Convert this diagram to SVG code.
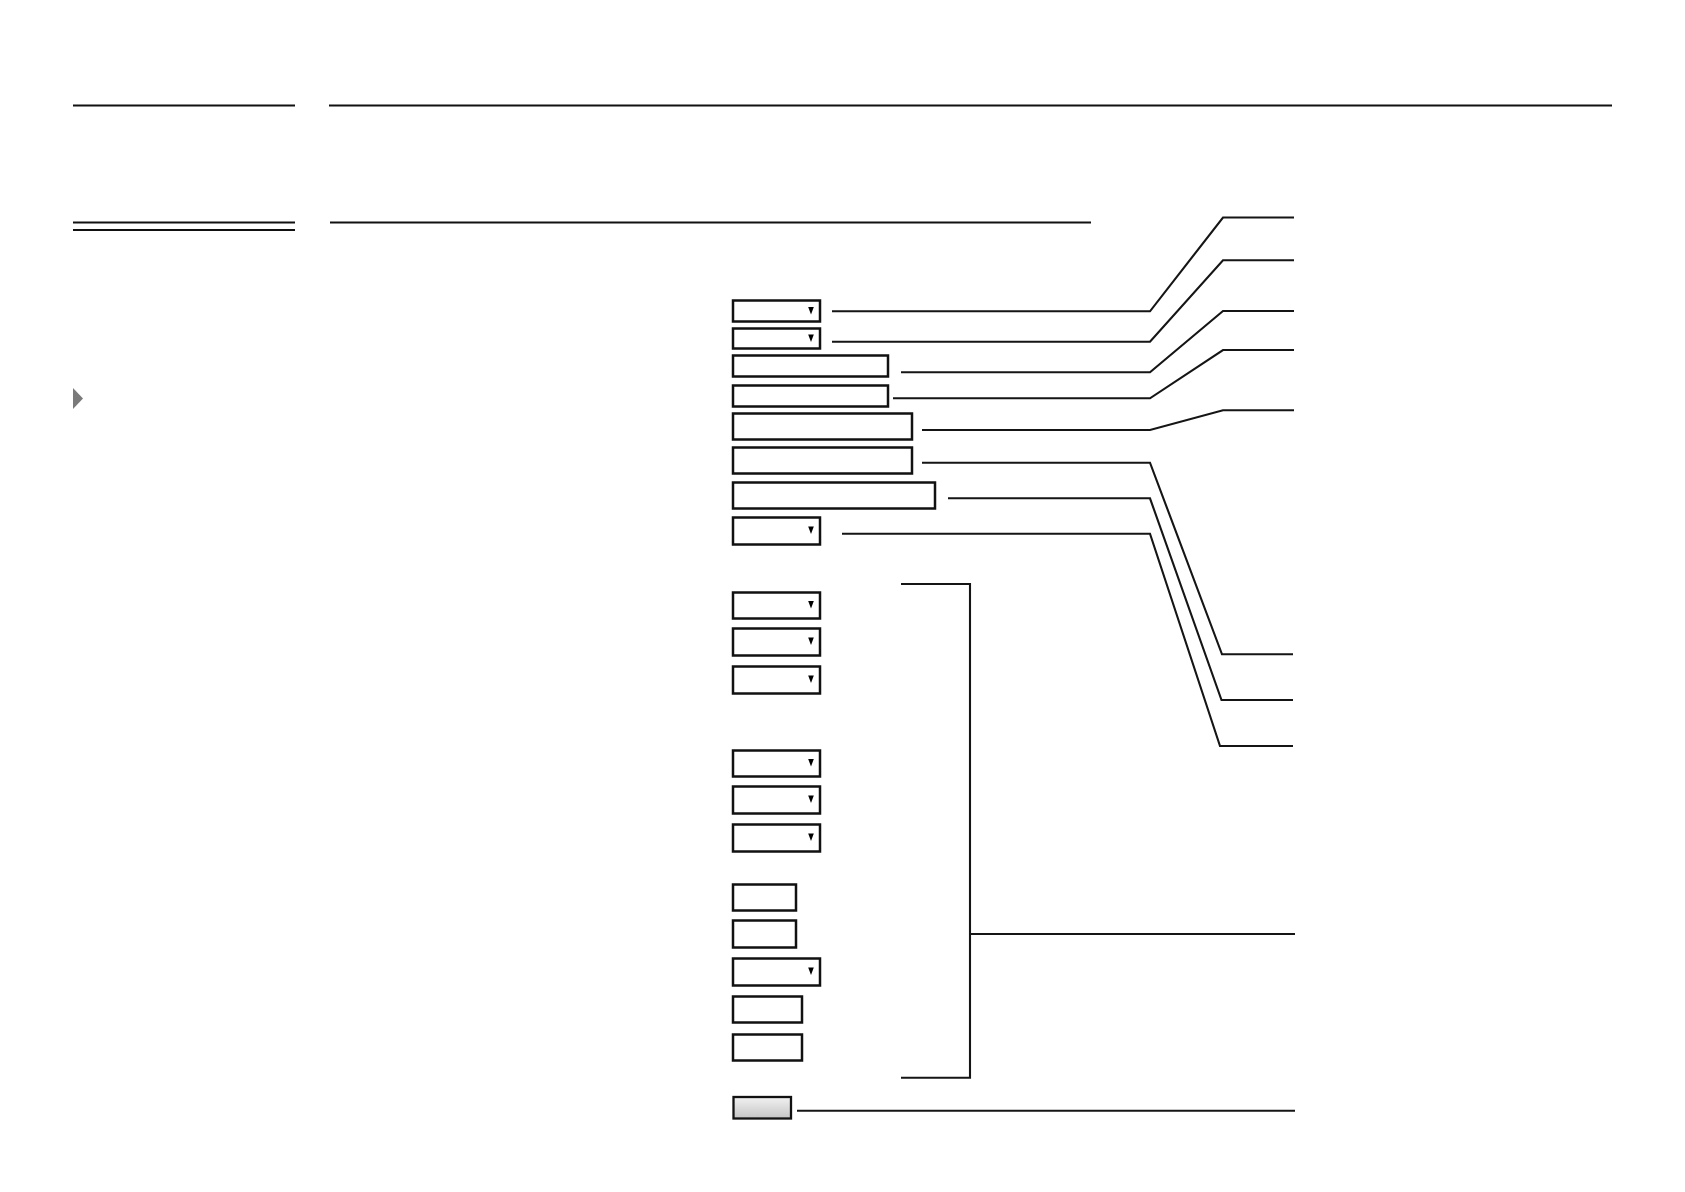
<svg xmlns="http://www.w3.org/2000/svg" width="1685" height="1192" viewBox="0 0 1685 1192">
<style>
.rule{stroke:#111;stroke-width:2.2;fill:none}
.box{fill:#fff;stroke:#111;stroke-width:2.5}
.arr{fill:#000}
.conn{stroke:#151515;stroke-width:2.1;fill:none;stroke-linejoin:miter}
</style>
<defs>
<linearGradient id="btn" x1="0" y1="0" x2="0" y2="1">
<stop offset="0" stop-color="#f2f2f2"/>
<stop offset="1" stop-color="#c4c4c4"/>
</linearGradient>
<path id="dd" d="M-2.8,-3.5 L2.8,-3.5 L0,4 Z"/>
</defs>
<rect width="1685" height="1192" fill="#fff"/>
<g id="rules">
<line class="rule" x1="73" y1="105.5" x2="295" y2="105.5"/>
<line class="rule" x1="329" y1="105.5" x2="1612" y2="105.5"/>
<line class="rule" x1="73" y1="222.5" x2="295" y2="222.5"/>
<line class="rule" x1="73" y1="230" x2="295" y2="230"/>
<line class="rule" x1="330" y1="222.5" x2="1091" y2="222.5"/>
</g>
<g id="triangle"><path d="M73,388 L83,398.5 L73,409 Z" fill="#7a7a7a"/></g>
<g id="nodes">
<g id="n1"><rect class="box" x="733" y="300.5" width="87" height="21"/><use href="#dd" x="811" y="310.5" class="arr"/></g>
<g id="n2"><rect class="box" x="733" y="328.5" width="87" height="20"/><use href="#dd" x="811" y="338" class="arr"/></g>
<g id="n3"><rect class="box" x="733" y="355.5" width="155" height="21"/></g>
<g id="n4"><rect class="box" x="733" y="385.5" width="155" height="21"/></g>
<g id="n5"><rect class="box" x="733" y="413.5" width="179" height="26"/></g>
<g id="n6"><rect class="box" x="733" y="447.5" width="179" height="26"/></g>
<g id="n7"><rect class="box" x="733" y="482.5" width="202" height="26"/></g>
<g id="n8"><rect class="box" x="733" y="517.5" width="87" height="27"/><use href="#dd" x="811" y="530" class="arr"/></g>
<g id="n9"><rect class="box" x="733" y="592.5" width="87" height="26"/><use href="#dd" x="811" y="604.5" class="arr"/></g>
<g id="n10"><rect class="box" x="733" y="628.5" width="87" height="27"/><use href="#dd" x="811" y="641" class="arr"/></g>
<g id="n11"><rect class="box" x="733" y="666.5" width="87" height="27"/><use href="#dd" x="811" y="679" class="arr"/></g>
<g id="n12"><rect class="box" x="733" y="750.5" width="87" height="26"/><use href="#dd" x="811" y="762.5" class="arr"/></g>
<g id="n13"><rect class="box" x="733" y="786.5" width="87" height="27"/><use href="#dd" x="811" y="799" class="arr"/></g>
<g id="n14"><rect class="box" x="733" y="824.5" width="87" height="27"/><use href="#dd" x="811" y="837" class="arr"/></g>
<g id="n15"><rect class="box" x="733" y="884.5" width="63" height="26"/></g>
<g id="n16"><rect class="box" x="733" y="920.5" width="63" height="27"/></g>
<g id="n17"><rect class="box" x="733" y="958.5" width="87" height="27"/><use href="#dd" x="811" y="971" class="arr"/></g>
<g id="n18"><rect class="box" x="733" y="996.5" width="69" height="26"/></g>
<g id="n19"><rect class="box" x="733" y="1034.5" width="69" height="26"/></g>
<g id="n20"><rect x="733.5" y="1097" width="57.5" height="21.5" fill="url(#btn)" stroke="#111" stroke-width="2.3"/></g>
</g>
<g id="connectors">
<polyline class="conn" points="832,311.3 1150,311.3 1223,217.5 1294,217.5"/>
<polyline class="conn" points="832,341.7 1150,341.7 1223,260.3 1294,260.3"/>
<polyline class="conn" points="901,372.3 1150,372.3 1223,311 1294,311"/>
<polyline class="conn" points="893,398.3 1150,398.3 1223,350 1294,350"/>
<polyline class="conn" points="922,430 1150,430 1223,410.3 1294,410.3"/>
<polyline class="conn" points="922,462.7 1150,462.7 1222,654.3 1293,654.3"/>
<polyline class="conn" points="948,498.3 1150,498.3 1221.5,700 1293,700"/>
<polyline class="conn" points="842,533.7 1150,533.7 1220,746 1293,746"/>
<polyline class="conn" points="901,584 970,584 970,1077.7 901,1077.7"/>
<line class="conn" x1="970" y1="934" x2="1295" y2="934"/>
<line class="conn" x1="797" y1="1110.7" x2="1295" y2="1110.7" stroke-width="2.6"/>
</g>
</svg>
